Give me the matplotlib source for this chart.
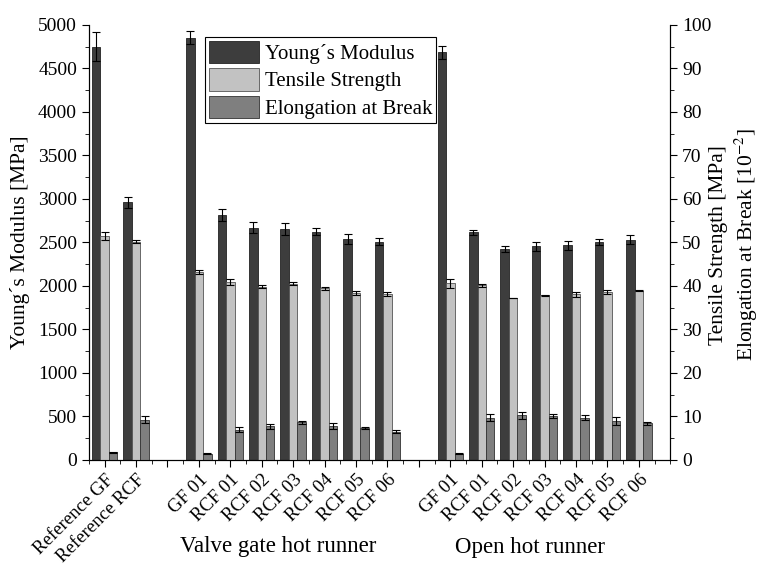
import numpy as np
import matplotlib.pyplot as plt
from matplotlib.ticker import MultipleLocator

plt.rcParams['font.family'] = ['Liberation Serif', 'DejaVu Serif']
plt.rcParams['mathtext.fontset'] = 'stix'

# sample names (blank = spacer between the groups)
rotulos = ["Reference GF", "Reference RCF", "",
           "GF 01", "RCF 01", "RCF 02", "RCF 03", "RCF 04", "RCF 05", "RCF 06", "",
           "GF 01", "RCF 01", "RCF 02", "RCF 03", "RCF 04", "RCF 05", "RCF 06"]

# Young's modulus [MPa]
modulo = [4750, 2960, np.nan,
          4855, 2815, 2670, 2655, 2625, 2540, 2510, np.nan,
          4685, 2615, 2425, 2455, 2465, 2500, 2530]
modulo_err = [170, 60, 0,
              70, 65, 65, 65, 45, 55, 40, 0,
              75, 25, 30, 50, 55, 35, 50]

# tensile strength [MPa]
resistencia = [51.5, 50.2, np.nan,
               43.2, 40.9, 39.8, 40.5, 39.4, 38.4, 38.1, np.nan,
               40.6, 40.1, 37.2, 37.8, 38.1, 38.6, 38.9]
resistencia_err = [0.9, 0.4, 0,
                   0.5, 0.6, 0.4, 0.3, 0.4, 0.5, 0.4, 0,
                   1.0, 0.4, 0.1, 0.2, 0.6, 0.5, 0.1]

# elongation at break [10^-2]
alongamento = [1.7, 9.2, np.nan,
               1.4, 6.9, 7.7, 8.6, 7.8, 7.4, 6.5, np.nan,
               1.4, 9.7, 10.2, 10.1, 9.7, 9.0, 8.4]
alongamento_err = [0.1, 0.8, 0,
                   0.1, 0.6, 0.6, 0.3, 0.6, 0.2, 0.4, 0,
                   0.1, 0.8, 0.8, 0.4, 0.5, 0.9, 0.4]

cor_modulo = "#3d3d3d"
cor_resist = "#c2c2c2"
cor_along = "#7f7f7f"

x = np.arange(len(rotulos))
w = 0.27

fig = plt.figure(figsize=(7.6, 5.67), dpi=100)
ax = fig.add_axes([0.117, 0.189, 0.765, 0.767])
ax2 = ax.twinx()

err_kw = dict(ecolor="black", elinewidth=0.8, capsize=3, capthick=0.8)

b1 = ax.bar(x - w, modulo, w, yerr=modulo_err, color=cor_modulo,
            edgecolor="#222222", linewidth=0.6, error_kw=err_kw)
b2 = ax2.bar(x, resistencia, w, yerr=resistencia_err, color=cor_resist,
             edgecolor="#555555", linewidth=0.6, error_kw=err_kw)
b3 = ax2.bar(x + w, alongamento, w, yerr=alongamento_err, color=cor_along,
             edgecolor="#333333", linewidth=0.6, error_kw=err_kw)

ax.set_xlim(-0.5, 18)
ax.set_ylim(0, 5000)
ax2.set_ylim(0, 100)

ax.yaxis.set_major_locator(MultipleLocator(500))
ax.yaxis.set_minor_locator(MultipleLocator(250))
ax2.yaxis.set_major_locator(MultipleLocator(10))
ax2.yaxis.set_minor_locator(MultipleLocator(5))
ax.xaxis.set_minor_locator(MultipleLocator(0.5))

ax.set_xticks(x)
ax.set_xticklabels(rotulos, rotation=45, ha="right", rotation_mode="anchor",
                   fontsize=13.5)

for a in (ax, ax2):
    a.spines["top"].set_visible(False)
    a.tick_params(which="both", direction="out")
    a.tick_params(axis="y", labelsize=14)
    a.tick_params(which="major", length=5)
    a.tick_params(which="minor", length=3)

ax.set_ylabel("Young´s Modulus [MPa]", fontsize=15.5, labelpad=6)
fig.text(0.945, 0.568, "Tensile Strength [MPa]", rotation=90, fontsize=15.5,
         ha="center", va="center")
fig.text(0.982, 0.568, r"Elongation at Break [10$^{-2}$]", rotation=90,
         fontsize=15.5, ha="center", va="center")

fig.text(0.366, 0.036, "Valve gate hot runner", fontsize=16.5,
         ha="center", va="center")
fig.text(0.697, 0.034, "Open hot runner", fontsize=16.5,
         ha="center", va="center")

leg = ax2.legend([b1, b2, b3],
                 ["Young´s Modulus", "Tensile Strength", "Elongation at Break"],
                 loc="upper left", bbox_to_anchor=(0.2, 0.972), fontsize=15,
                 fancybox=False, edgecolor="black", framealpha=1,
                 handlelength=2.4, handleheight=1.25, borderpad=0.2,
                 labelspacing=0.2, handletextpad=0.25, borderaxespad=0)
leg.get_frame().set_linewidth(0.8)

fig.savefig("out.png", dpi=100)
